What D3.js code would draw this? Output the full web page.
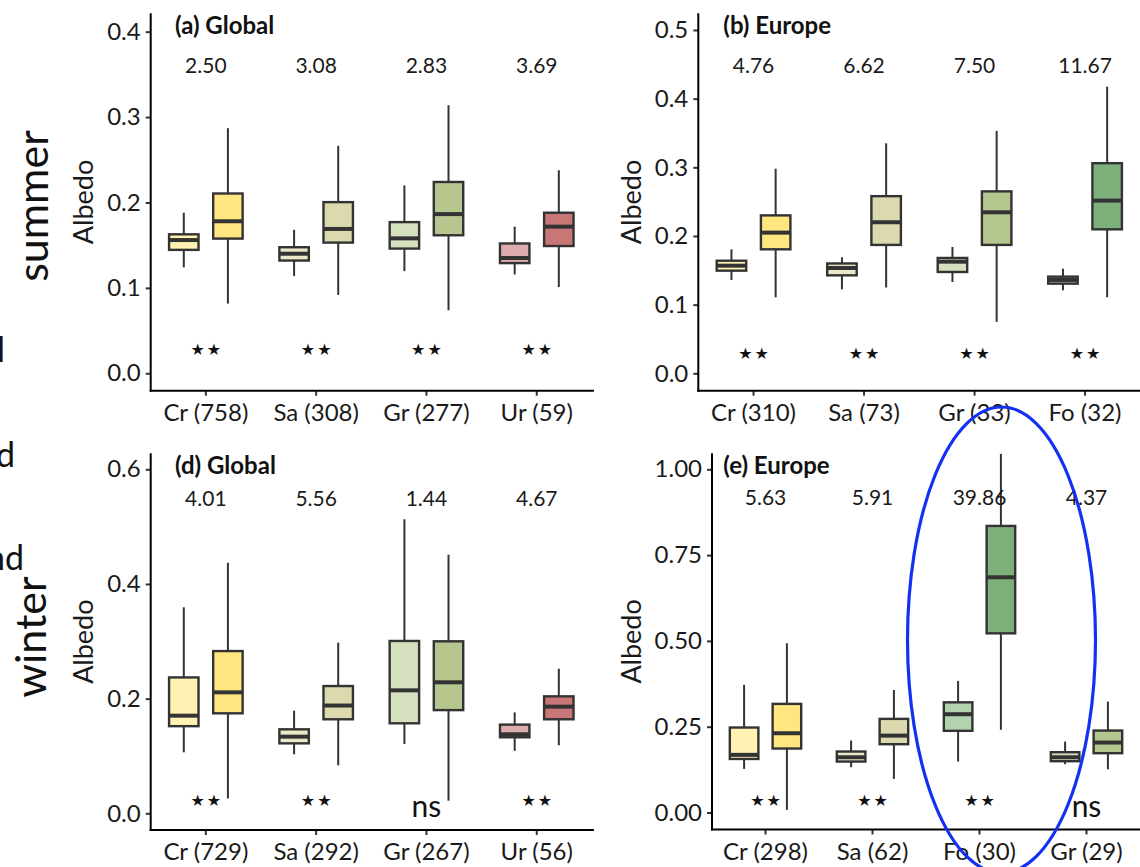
<!DOCTYPE html>
<html>
<head>
<meta charset="utf-8">
<script src="https://cdn.jsdelivr.net/npm/d3@7"></script>
<style>
  html, body { margin: 0; padding: 0; background: #fff; }
  svg { display: block; font-family: Lato, "Noto Sans", sans-serif; }
</style>
</head>
<body>
<svg id="chart" width="1140" height="867"></svg>
<script>
// ---------------- DATA ----------------
// each box: [lower whisker, Q1, median, Q3, upper whisker]
const catsA = ["Cr (758)", "Sa (308)", "Gr (277)", "Ur (59)"];
const typesA = ["Cr", "Sa", "Gr", "Ur"];
const leftA = [
  [0.124, 0.1445, 0.156, 0.1627, 0.188],
  [0.1138, 0.132, 0.140, 0.1476, 0.168],
  [0.1196, 0.146, 0.158, 0.177, 0.220],
  [0.1157, 0.129, 0.135, 0.152, 0.1717]
];
const rightA = [
  [0.0816, 0.1577, 0.178, 0.2105, 0.287],
  [0.0917, 0.153, 0.169, 0.2004, 0.2664],
  [0.0738, 0.1616, 0.1864, 0.224, 0.3138],
  [0.101, 0.149, 0.1717, 0.188, 0.2377]
];
const ratioA = ["2.50", "3.08", "2.83", "3.69"];
const sigA = ["★★", "★★", "★★", "★★"];

const catsB = ["Cr (310)", "Sa (73)", "Gr (33)", "Fo (32)"];
const typesB = ["Cr", "Sa", "Gr", "Fo"];
const leftB = [
  [0.136, 0.1495, 0.1568, 0.164, 0.1806],
  [0.1223, 0.1427, 0.1534, 0.160, 0.169],
  [0.133, 0.1476, 0.1626, 0.168, 0.184],
  [0.121, 0.1306, 0.136, 0.1408, 0.1524]
];
const rightB = [
  [0.1107, 0.1806, 0.2049, 0.230, 0.298],
  [0.125, 0.187, 0.220, 0.258, 0.335],
  [0.075, 0.187, 0.2345, 0.265, 0.353],
  [0.1107, 0.2097, 0.2515, 0.306, 0.4175]
];
const ratioB = ["4.76", "6.62", "7.50", "11.67"];
const sigB = ["★★", "★★", "★★", "★★"];

const catsD = ["Cr (729)", "Sa (292)", "Gr (267)", "Ur (56)"];
const typesD = ["Cr", "Sa", "Gr", "Ur"];
const leftD = [
  [0.1064, 0.152, 0.1703, 0.237, 0.3593],
  [0.103, 0.122, 0.1337, 0.1465, 0.179],
  [0.121, 0.157, 0.2145, 0.3006, 0.5128],
  [0.109, 0.1326, 0.1378, 0.1547, 0.176]
];
const rightD = [
  [0.026, 0.1744, 0.211, 0.283, 0.437],
  [0.0837, 0.164, 0.188, 0.222, 0.2977],
  [0.022, 0.180, 0.2285, 0.300, 0.451],
  [0.1186, 0.164, 0.186, 0.204, 0.2523]
];
const ratioD = ["4.01", "5.56", "1.44", "4.67"];
const sigD = ["★★", "★★", "ns", "★★"];

const catsE = ["Cr (298)", "Sa (62)", "Fo (30)", "Gr (29)"];
const typesE = ["Cr", "Sa", "Fo", "Gr"];
const leftE = [
  [0.127, 0.156, 0.168, 0.2476, 0.372],
  [0.132, 0.1485, 0.161, 0.1777, 0.2097],
  [0.1485, 0.238, 0.2864, 0.321, 0.3835],
  [0.1408, 0.1495, 0.161, 0.1757, 0.2068]
];
const rightE = [
  [0.0078, 0.1864, 0.231, 0.3165, 0.493],
  [0.098, 0.199, 0.224, 0.2728, 0.357],
  [0.241, 0.522, 0.6854, 0.835, 1.045],
  [0.126, 0.1728, 0.2039, 0.2388, 0.3233]
];
const ratioE = ["5.63", "5.91", "39.86", "4.37"];
const sigE = ["★★", "★★", "★★", "ns"];

const ticksA = [0, 0.1, 0.2, 0.3, 0.4];
const ticksB = [0, 0.1, 0.2, 0.3, 0.4, 0.5];
const ticksD = [0, 0.2, 0.4, 0.6];
const ticksE = [0, 0.25, 0.5, 0.75, 1.0];

// colours: [light (left box), dark (right box)]
const colours = {
  Cr: ["#fff2b3", "#ffe680"],
  Sa: ["#ebe8c9", "#ddd9ae"],
  Gr: ["#d5e0bf", "#b5c78e"],
  Ur: ["#ddacac", "#c97676"],
  Fo: ["#b3d2b0", "#7db07a"]
};

// ---------------- LAYOUT ----------------
const panels = [
  { title: "(a) Global", cats: catsA, types: typesA, left: leftA, right: rightA, ratio: ratioA, sig: sigA,
    ticks: ticksA, fmt: ".1f", x0: 150.7, x1: 591.9, top: 13.3, bottom: 390.7, dom: [-0.0204, 0.4215],
    titleX: 175, ratioY: 0.352, sigY: 0.0285, ylabX: 92.5 },
  { title: "(b) Europe", cats: catsB, types: typesB, left: leftB, right: rightB, ratio: ratioB, sig: sigB,
    ticks: ticksB, fmt: ".1f", x0: 698.3, x1: 1140.3, top: 13.3, bottom: 390.7, dom: [-0.0253, 0.5243],
    titleX: 723.3, ratioY: 0.4378, sigY: 0.0296, ylabX: 641 },
  { title: "(d) Global", cats: catsD, types: typesD, left: leftD, right: rightD, ratio: ratioD, sig: sigD,
    ticks: ticksD, fmt: ".1f", x0: 150.7, x1: 591.9, top: 453.3, bottom: 830, dom: [-0.0291, 0.6279],
    titleX: 175, ratioY: 0.536, sigY: 0.0232, ylabX: 92.5 },
  { title: "(e) Europe", cats: catsE, types: typesE, left: leftE, right: rightE, ratio: ratioE, sig: sigE,
    ticks: ticksE, fmt: ".2f", x0: 712, x1: 1140, top: 453.3, bottom: 829.5, dom: [-0.0495, 1.0466],
    titleX: 723.3, ratioY: 0.896, sigY: 0.0364, ylabX: 641 }
];

const svg = d3.select("#chart");
const INK = "#333333";

panels.forEach(p => {
  const g = svg.append("g");
  const x = d3.scaleBand().domain(p.cats).range([p.x0, p.x1]).padding(0);
  const y = d3.scaleLinear().domain(p.dom).range([p.bottom, p.top]);
  const step = x.bandwidth();
  const bw = step * 0.267;
  const off = step * 0.2;

  // y axis
  const ya = g.append("g").attr("transform", `translate(${p.x0},0)`)
    .call(d3.axisLeft(y).tickValues(p.ticks).tickFormat(d3.format(p.fmt)).tickSize(5).tickPadding(5));
  ya.select(".domain").remove();
  ya.selectAll(".tick line").attr("stroke", INK).attr("stroke-width", 2);
  ya.selectAll(".tick text").attr("font-size", 24).attr("fill", "#1a1a1a").attr("font-family", "Lato");

  // x axis
  const xa = g.append("g").attr("transform", `translate(0,${p.bottom})`)
    .call(d3.axisBottom(x).tickSize(5).tickPadding(8));
  xa.select(".domain").remove();
  xa.selectAll(".tick line").attr("stroke", INK).attr("stroke-width", 2);
  xa.selectAll(".tick text").attr("font-size", 24).attr("fill", "#1a1a1a").attr("font-family", "Lato");

  // axis lines
  g.append("line").attr("x1", p.x0).attr("x2", p.x0).attr("y1", p.top).attr("y2", p.bottom + 1)
    .attr("stroke", "#000").attr("stroke-width", 2);
  g.append("line").attr("x1", p.x0 - 1).attr("x2", p.x1 + 2).attr("y1", p.bottom).attr("y2", p.bottom)
    .attr("stroke", "#000").attr("stroke-width", 2);

  // boxes
  const drawBox = (vals, cx, fill) => {
    const [lo, q1, md, q3, hi] = vals;
    g.append("line").attr("x1", cx).attr("x2", cx).attr("y1", y(hi)).attr("y2", y(q3))
      .attr("stroke", INK).attr("stroke-width", 2);
    g.append("line").attr("x1", cx).attr("x2", cx).attr("y1", y(q1)).attr("y2", y(lo))
      .attr("stroke", INK).attr("stroke-width", 2);
    g.append("rect").attr("x", cx - bw / 2).attr("y", y(q3)).attr("width", bw)
      .attr("height", Math.max(0.5, y(q1) - y(q3)))
      .attr("fill", fill).attr("stroke", INK).attr("stroke-width", 2.4);
    g.append("line").attr("x1", cx - bw / 2).attr("x2", cx + bw / 2).attr("y1", y(md)).attr("y2", y(md))
      .attr("stroke", INK).attr("stroke-width", 4);
  };
  p.cats.forEach((c, i) => {
    const cx = x(c) + step / 2;
    const col = colours[p.types[i]];
    drawBox(p.left[i], cx - off, col[0]);
    drawBox(p.right[i], cx + off, col[1]);
  });

  // ratio labels
  g.selectAll(".ratio").data(p.ratio).join("text")
    .attr("x", (d, i) => x(p.cats[i]) + step / 2).attr("y", y(p.ratioY))
    .attr("text-anchor", "middle").attr("font-size", 21).attr("fill", "#1a1a1a").text(d => d);

  // significance labels
  const isNs = d => d === "ns";
  g.selectAll(".sig").data(p.sig).join("text")
    .attr("x", (d, i) => x(p.cats[i]) + step / 2 + (isNs(d) ? 0 : 1))
    .attr("y", d => isNs(d) ? y(p.sigY) + 17 : y(p.sigY) + 6)
    .attr("text-anchor", "middle")
    .attr("font-size", d => isNs(d) ? 30 : 16)
    .attr("letter-spacing", d => isNs(d) ? 0 : 2)
    .attr("font-family", d => isNs(d) ? "Lato" : "DejaVu Sans")
    .attr("fill", "#111").text(d => d);

  // title
  g.append("text").attr("x", p.titleX).attr("y", p.top + 21).attr("font-size", 24)
    .attr("font-weight", "bold").attr("fill", "#111").text(p.title);

  // y axis title
  g.append("text").attr("transform", `translate(${p.ylabX},${(p.top + p.bottom) / 2}) rotate(-90)`)
    .attr("text-anchor", "middle").attr("font-size", 27).attr("fill", "#1a1a1a").text("Albedo");
});

// row labels (season)
svg.append("text").attr("transform", "translate(48,206) rotate(-90)").attr("text-anchor", "middle")
  .attr("font-size", 43).attr("fill", "#111").text("summer");
svg.append("text").attr("transform", "translate(46,637) rotate(-90)").attr("text-anchor", "middle")
  .attr("font-size", 43).attr("fill", "#111").text("winter");

// cropped fragments of labels at the left edge (cut in the original figure too)
svg.append("text").attr("x", -3).attr("y", 362).attr("font-size", 34).attr("fill", "#111").text("l");
svg.append("text").attr("x", -4).attr("y", 467).attr("font-size", 34).attr("fill", "#111").text("d");
svg.append("text").attr("x", -14).attr("y", 570).attr("font-size", 34).attr("fill", "#111").text("nd");

// highlight ellipse
svg.append("ellipse").attr("cx", 1001.5).attr("cy", 640).attr("rx", 94).attr("ry", 233)
  .attr("fill", "none").attr("stroke", "#1430f2").attr("stroke-width", 3.2);
</script>
</body>
</html>
